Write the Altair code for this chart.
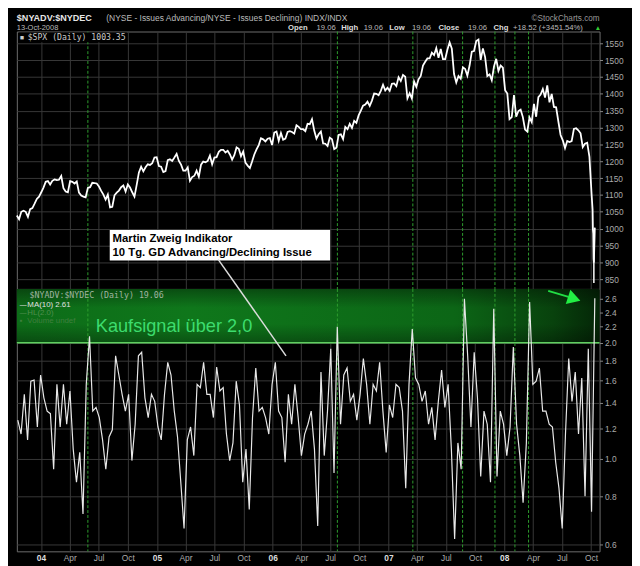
import altair as alt
import pandas as pd

# ------------------------------------------------------------------ data
# S&P 500 weekly closes (Fridays)
spx_start = "2003-10-17"
spx_2003 = [1039, 1028, 1050, 1053, 1050, 1035, 1058, 1061, 1074, 1088, 1095]
spx_2004 = [1108, 1122, 1139, 1141, 1131,
            1142, 1146, 1144, 1145,
            1156, 1120, 1110, 1108,
            1141, 1139, 1134, 1140, 1107,
            1098, 1095, 1093, 1121,
            1123, 1136, 1135, 1134,
            1125, 1112, 1101, 1086, 1101,
            1063, 1065, 1099, 1107,
            1113, 1123, 1128, 1110,
            1131, 1122, 1108, 1095, 1130,
            1167, 1184, 1170, 1182,
            1191, 1189, 1194, 1211, 1212]
spx_2005 = [1186, 1184, 1168, 1171,
            1203, 1206, 1201, 1211,
            1222, 1201, 1190, 1172,
            1172, 1182, 1142, 1153, 1157,
            1172, 1154, 1190, 1199,
            1197, 1201, 1217, 1191,
            1211, 1212, 1228, 1234, 1234,
            1226, 1231, 1220, 1205,
            1218, 1241, 1237, 1215, 1229,
            1196, 1187, 1180, 1199,
            1220, 1235, 1248, 1268,
            1265, 1259, 1267, 1269, 1248]
spx_2006 = [1285, 1288, 1261, 1284,
            1264, 1267, 1287, 1289,
            1287, 1282, 1307, 1302, 1295,
            1295, 1289, 1311, 1310,
            1325, 1291, 1267, 1280,
            1288, 1253, 1252, 1245, 1270,
            1265, 1236, 1240, 1278,
            1280, 1266, 1302, 1295,
            1311, 1299, 1320, 1314, 1336,
            1350, 1365, 1368, 1377,
            1364, 1380, 1401, 1400,
            1396, 1409, 1427, 1410, 1418]
spx_2007 = [1409, 1430, 1431, 1423,
            1449, 1438, 1456, 1451,
            1387, 1402, 1386, 1437, 1421,
            1443, 1453, 1484, 1495,
            1505, 1505, 1522, 1515,
            1536, 1507, 1533, 1503, 1503,
            1531, 1553, 1534, 1459,
            1434, 1453, 1445, 1479, 1474,
            1454, 1484, 1525, 1527,
            1557, 1561, 1501, 1535,
            1509, 1453, 1458, 1440, 1481,
            1504, 1468, 1484, 1478]
spx_2008 = [1411, 1401, 1325, 1331,
            1396, 1332, 1349, 1353, 1331,
            1294, 1288, 1330, 1316,
            1370, 1332, 1390, 1398,
            1414, 1389, 1425, 1375, 1400,
            1361, 1360, 1318, 1278,
            1262, 1239, 1260, 1257,
            1260, 1296, 1298, 1292, 1283,
            1242, 1252, 1255, 1213,
            1099]
spx_last_dates = ["2008-10-06", "2008-10-07", "2008-10-08", "2008-10-09", "2008-10-10", "2008-10-13"]
spx_last_vals = [1056, 996, 985, 910, 899, 1003]
oct10_bar = {"date": "2008-10-10", "low": 839, "high": 936}

# 10-day MA of NYSE advancing / declining issues
ma_part1 = [1.26, 1.16, 1.47, 1.12, 1.59, 1.60, 1.21, 1.65, 1.44, 1.33,
            1.31, 0.94, 1.56, 1.21, 1.56, 1.23, 1.50, 1.06, 0.87, 1.04,
            0.72, 1.56, 2.08, 1.33, 1.36, 1.28, 1.12, 0.94, 1.14, 1.19,
            1.85, 1.65, 1.47, 1.33, 1.47, 0.99, 1.23, 1.85, 1.89, 1.44,
            1.28, 1.47, 1.41, 1.21, 1.12, 1.47, 1.78, 1.65, 1.33, 1.14,
            0.87, 0.66, 1.12, 1.21, 1.02, 1.56, 1.53, 1.78, 1.47]
ma_part2 = [1.47, 1.28, 1.73, 1.50, 1.53, 1.16, 0.99, 1.10, 1.59, 1.38,
            0.87, 1.06, 0.74, 1.28, 1.72, 1.33, 1.36, 1.28, 1.16, 1.56,
            1.78, 1.33, 1.28, 0.98, 1.47, 1.23, 1.56, 1.28, 1.02, 1.16,
            1.23, 1.33, 1.06, 0.67, 1.68, 1.02, 1.33, 1.93, 0.92, 2.20,
            1.23, 1.65, 1.72, 1.41, 1.47, 1.26, 1.47, 1.82, 1.56, 1.23,
            1.56, 1.50, 1.78, 1.33, 1.04, 1.38, 1.28, 1.56, 1.53]
ma_part3 = [1.33, 0.84, 1.56, 2.17, 1.62, 1.56, 1.41, 1.50, 1.23, 1.36,
            1.12, 1.41, 1.70, 1.36, 1.56, 1.06, 0.62, 1.10, 0.94, 2.60,
            1.85, 1.21, 1.89, 1.44, 0.90, 1.33, 1.23, 0.87, 2.45, 0.90,
            1.33, 1.23, 1.02, 1.21, 1.95, 1.23, 1.02, 0.77, 1.10, 2.55,
            1.56, 1.59, 1.72, 1.33, 1.33, 1.23, 1.21, 0.98, 0.84, 0.66,
            1.16, 1.82, 1.41, 1.68, 1.16, 1.62, 0.80, 1.93, 0.73, 2.61]
ma_start, ma_end = "2003-10-20", "2008-10-13"

signal_dates = ["2004-05-28", "2006-07-24", "2007-03-19", "2007-08-23",
                "2007-12-03", "2008-02-04", "2008-03-18"]

spx_ticks = [850, 900, 950, 1000, 1050, 1100, 1150, 1200, 1250, 1300,
             1350, 1400, 1450, 1500, 1550]
ma_ticks = [0.6, 0.8, 1.0, 1.2, 1.4, 1.6, 1.8, 2.0, 2.2, 2.4, 2.6]
kauf_level = 2.0

# ------------------------------------------------------------------ frames
spx_vals = spx_2003 + spx_2004 + spx_2005 + spx_2006 + spx_2007 + spx_2008
spx_dates = list(pd.date_range(spx_start, periods=len(spx_vals), freq="W-FRI"))
spx_df = pd.DataFrame({
    "date": spx_dates + list(pd.to_datetime(spx_last_dates)),
    "spx": spx_vals + spx_last_vals,
})
bar_df = pd.DataFrame([{"date": pd.Timestamp(oct10_bar["date"]),
                        "low": oct10_bar["low"], "high": oct10_bar["high"]}])

ma_vals = ma_part1 + ma_part2 + ma_part3
ma_df = pd.DataFrame({"date": pd.date_range(ma_start, ma_end, periods=len(ma_vals)),
                      "ma": ma_vals})
sig_df = pd.DataFrame({"date": pd.to_datetime(signal_dates)})
one = pd.DataFrame({"k": [0]})

W, H1, H2 = 593, 262, 267
FONT = "Liberation Sans"
MONO = "DejaVu Sans Mono"
GRID = "#383838"

x_scale = alt.Scale(domain=[alt.DateTime(year=2003, month=10, date=17),
                            alt.DateTime(year=2008, month=10, date=28)])
quarters = [alt.DateTime(year=y, month=m, date=1) for y in range(2004, 2009) for m in (1, 4, 7, 10)]

x_axis_top = alt.Axis(values=quarters, labels=False, ticks=False, domain=False,
                      grid=True, gridColor=GRID, title=None)
x_axis_bottom = alt.Axis(
    values=quarters, ticks=False, domain=False, grid=True, gridColor=GRID, title=None,
    labelExpr="month(datum.value) == 0 ? timeFormat(datum.value, '%y') : timeFormat(datum.value, '%b')",
    labelFontWeight={"condition": {"test": "month(datum.value) == 0", "value": "bold"}, "value": "normal"},
    labelColor={"condition": {"test": "month(datum.value) == 0", "value": "#dddddd"}, "value": "#aaaaaa"},
    labelFont=FONT, labelFontSize=8.5, labelPadding=2, labelAlign="center", labelBaseline="top",
)

spx_scale = alt.Scale(domain=[821, 1585], zero=False, nice=False)
spx_axis = alt.Axis(orient="right", values=spx_ticks, format="d", title=None, grid=True,
                    gridColor=GRID, domain=False, tickColor="#888", tickSize=3,
                    labelColor="#aaaaaa", labelFontSize=8.5, labelFont=FONT, labelPadding=2)
ma_scale = alt.Scale(type="log", domain=[0.576, 2.757], nice=False)
ma_axis = alt.Axis(orient="right", values=ma_ticks, format=".1f", title=None, grid=True,
                   gridColor=GRID, domain=False, tickColor="#888", tickSize=3,
                   labelColor="#aaaaaa", labelFontSize=8.5, labelFont=FONT, labelPadding=2)


def xt(field="date"):
    return alt.X(f"{field}:T", scale=x_scale, axis=x_axis_top)


def xb(field="date"):
    return alt.X(f"{field}:T", scale=x_scale, axis=x_axis_bottom)


def ys(field):
    return alt.Y(f"{field}:Q", scale=spx_scale, axis=spx_axis)


def ym(field):
    return alt.Y(f"{field}:Q", scale=ma_scale, axis=ma_axis)


def label(text, x, y, size=8.5, color="#bbbbbb", weight="normal", font=FONT, align="left"):
    return alt.Chart(one).mark_text(text=text, x=x, y=y, fontSize=size, color=color,
                                    fontWeight=weight, font=font, align=align,
                                    baseline="alphabetic")


# ------------------------------------------------------------------ upper panel
header_bg = alt.Chart(one).mark_rect(x=0, x2=W, y=-18, y2=-1, color="black")
sig_top = alt.Chart(sig_df).mark_rule(color="#2e9e2e", strokeDash=[3, 2], strokeWidth=1).encode(x=xt())
spx_line = alt.Chart(spx_df).mark_line(color="white", strokeWidth=1.8).encode(x=xt(), y=ys("spx"))
spx_bar = alt.Chart(bar_df).mark_rule(color="white", strokeWidth=1.5).encode(
    x=xt(), y=ys("low"), y2="high")

box_df = pd.DataFrame([{"d1": pd.Timestamp("2004-08-05"), "d2": pd.Timestamp("2006-07-01"),
                        "v1": 905.5, "v2": 996}])
box = alt.Chart(box_df).mark_rect(color="white").encode(x=xt("d1"), x2="d2", y=ys("v1"), y2="v2")
box_txt_df = pd.DataFrame([
    {"date": pd.Timestamp("2004-08-14"), "v": 961, "t": "Martin Zweig Indikator"},
    {"date": pd.Timestamp("2004-08-14"), "v": 920, "t": "10 Tg. GD Advancing/Declining Issue"},
])
box_txt = alt.Chart(box_txt_df).mark_text(align="left", baseline="alphabetic", font=FONT,
                                          fontSize=11.5, fontWeight="bold", color="black").encode(
    x=xt(), y=ys("v"), text="t:N")

spx_leg_bg = alt.Chart(one).mark_rect(x=2, x2=112, y=1, y2=11, color="black")
spx_leg_icon = label("■", 3, 8.8, size=7, color="#cccccc")
spx_leg = label("$SPX (Daily) 1003.35", 11, 8.8, size=8.3, color="#cccccc", font=MONO)

hdr = [
    label("$NYADV:$NYDEC", 0, -10.5, size=9.2, color="#e6e6e6", weight="bold"),
    label("(NYSE - Issues Advancing/NYSE - Issues Declining) INDX/INDX", 91, -10.5, size=8.6),
    label("©StockCharts.com", W, -10.5, size=8.3, color="#999999", align="right"),
    label("13-Oct-2008", 0, -1.3, size=7.6),
    label("Open", 276, -1.3, size=7.8, color="#dddddd", weight="bold"),
    label("19.06", 305, -1.3, size=7.8),
    label("High", 330, -1.3, size=7.8, color="#dddddd", weight="bold"),
    label("19.06", 353, -1.3, size=7.8),
    label("Low", 379, -1.3, size=7.8, color="#dddddd", weight="bold"),
    label("19.06", 402, -1.3, size=7.8),
    label("Close", 429, -1.3, size=7.8, color="#dddddd", weight="bold"),
    label("19.06", 459, -1.3, size=7.8),
    label("Chg", 485, -1.3, size=7.8, color="#dddddd", weight="bold"),
    label("+18.52 (+3451.54%)", 505, -1.3, size=7.8),
    label("▲", 588, -1.3, size=6.5, color="#33cc33"),
]

upper = alt.layer(header_bg, sig_top, spx_line, spx_bar, box, box_txt,
                  spx_leg_bg, spx_leg_icon, spx_leg, *hdr).properties(width=W, height=H1)

# ------------------------------------------------------------------ lower panel
band_df = pd.DataFrame([{"d1": pd.Timestamp("2003-10-17"), "d2": pd.Timestamp("2008-10-28"),
                         "v1": kauf_level, "v2": 2.757}])
band_fill = alt.Gradient(
    gradient="linear", x1=0, x2=1, y1=0, y2=0,
    stops=[alt.GradientStop(color="#0d6c18", offset=0),
           alt.GradientStop(color="#0f771b", offset=0.3),
           alt.GradientStop(color="#0c6616", offset=0.75),
           alt.GradientStop(color="#08420d", offset=0.92),
           alt.GradientStop(color="#042607", offset=1)])
band_shade = alt.Gradient(
    gradient="linear", x1=0, x2=0, y1=0, y2=1,
    stops=[alt.GradientStop(color="rgba(0,0,0,0.35)", offset=0),
           alt.GradientStop(color="rgba(0,0,0,0)", offset=0.35),
           alt.GradientStop(color="rgba(0,0,0,0)", offset=0.65),
           alt.GradientStop(color="rgba(0,0,0,0.3)", offset=1)])
band = alt.Chart(band_df).mark_rect(fill=band_fill).encode(x=xb("d1"), x2="d2", y=ym("v1"), y2="v2")
band2 = alt.Chart(band_df).mark_rect(fill=band_shade).encode(x=xb("d1"), x2="d2", y=ym("v1"), y2="v2")
hl = alt.Chart(pd.DataFrame({"v": [kauf_level]})).mark_rule(color="#5fcf5f", strokeWidth=1.5).encode(y=ym("v"))
sig_bot = alt.Chart(sig_df).mark_rule(color="#2e9e2e", strokeDash=[3, 2], strokeWidth=1).encode(x=xb())
ma_line = alt.Chart(ma_df).mark_line(color="#e8e8e8", strokeWidth=1.2).encode(x=xb(), y=ym("ma"))

pointer_df = pd.DataFrame([{"d1": pd.Timestamp("2005-07-13"), "d2": pd.Timestamp("2006-02-12"),
                            "v1": 3.29, "v2": 1.85}])
pointer = alt.Chart(pointer_df).mark_rule(color="#dddddd", strokeWidth=1.5).encode(
    x=xb("d1"), x2="d2", y=ym("v1"), y2="v2")

arrow_df = pd.DataFrame([{"d1": pd.Timestamp("2008-05-19"), "d2": pd.Timestamp("2008-07-22"),
                          "v1": 2.725, "v2": 2.63}])
arrow_line = alt.Chart(arrow_df).mark_rule(color="#22dd44", strokeWidth=2).encode(
    x=xb("d1"), x2="d2", y=ym("v1"), y2="v2")
head_df = pd.DataFrame([{"date": pd.Timestamp("2008-08-09"), "v": 2.60}])
arrow_head = alt.Chart(head_df).mark_point(shape="triangle-right", filled=True, size=230, angle=18,
                                           color="#22ee44", opacity=1).encode(x=xb(), y=ym("v"))

kauf_df = pd.DataFrame([{"date": pd.Timestamp("2004-06-22"), "v": 2.136, "t": "Kaufsignal über 2,0"}])
kauf = alt.Chart(kauf_df).mark_text(align="left", baseline="alphabetic", font=FONT, fontSize=18.5,
                                    color="#3ddc6e").encode(x=xb(), y=ym("v"), text="t:N")

leg = [
    label("$NYADV:$NYDEC (Daily) 19.06", 13, 9.5, size=8.4, color="#a0b4a0", font=MONO),
    label("—", 3, 18.5, size=7, color="#e0e0e0"),
    label("MA(10) 2.61", 10.7, 18.5, size=8, color="#e0e0e0"),
    label("—", 3, 26.5, size=7, color="#4f8f4f"),
    label("HL(2.0)", 10.7, 26.5, size=8, color="#4f8f4f"),
    label("▪", 3, 34.5, size=8, color="#3f7f3f"),
    label("Volume undef", 10.7, 34.5, size=8, color="#3f7f3f"),
]

lower = alt.layer(band, band2, hl, sig_bot, ma_line, kauf, *leg, pointer, arrow_line,
                  arrow_head).properties(width=W, height=H2)

chart = alt.vconcat(upper, lower, spacing=0, bounds="flush").properties(
    padding={"left": 4, "top": 0, "right": 8, "bottom": 0},
    background="black",
).configure_view(stroke="#6e6e6e", fill="black")

chart.save("out.html", embed_options={"renderer": "svg", "actions": False})
